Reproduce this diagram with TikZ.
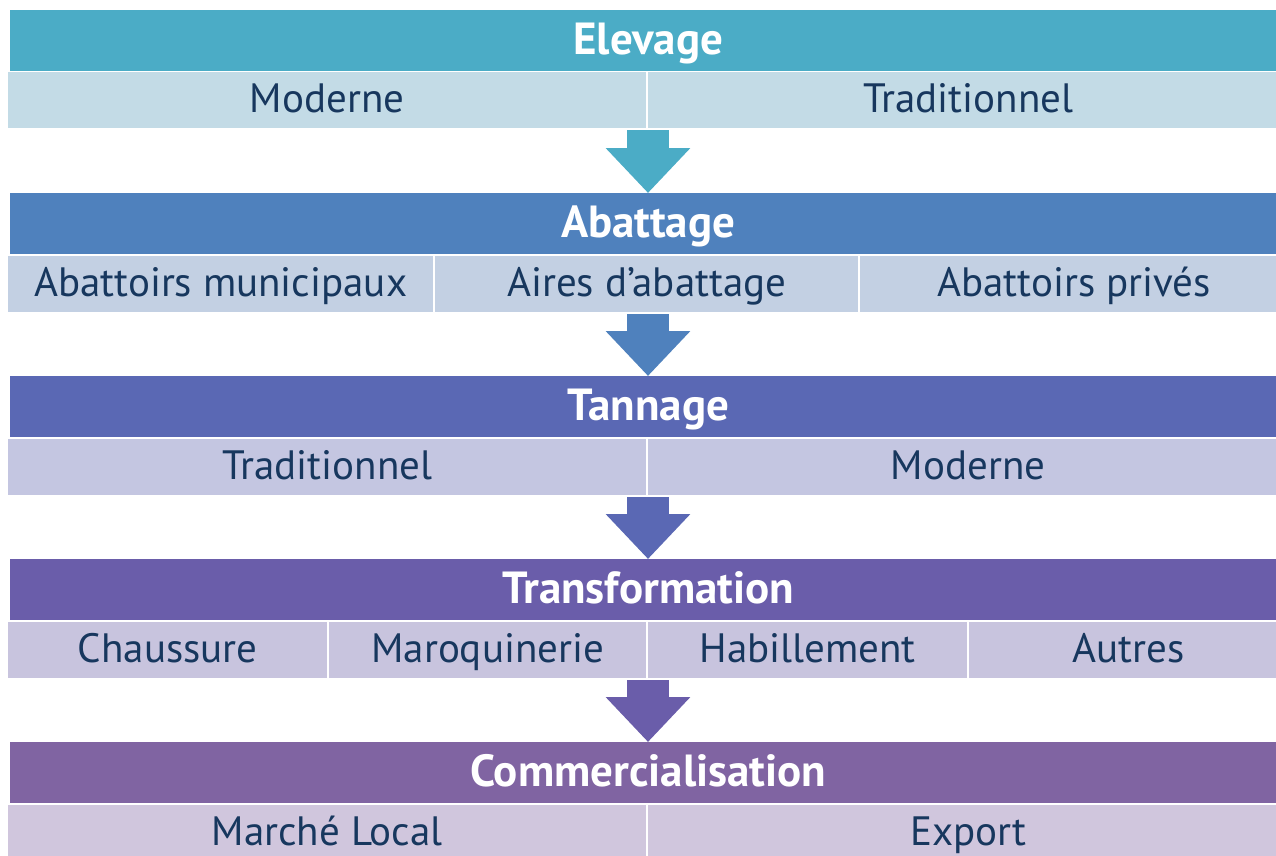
\documentclass[tikz,border=0pt]{standalone}
\usepackage{fontspec}
\setmainfont{PT Sans}
\usetikzlibrary{arrows.meta}
\definecolor{hA}{HTML}{4BACC6}\definecolor{sA}{HTML}{C3DBE6}
\definecolor{hB}{HTML}{4F81BD}\definecolor{sB}{HTML}{C3D0E3}
\definecolor{hC}{HTML}{5A68B4}\definecolor{sC}{HTML}{C4C6E1}
\definecolor{hD}{HTML}{6A5DAA}\definecolor{sD}{HTML}{C8C4DE}
\definecolor{hE}{HTML}{8064A2}\definecolor{sE}{HTML}{D0C6DD}
\definecolor{navy}{HTML}{17375E}
\tikzset{
  head/.style={fill=#1, anchor=north west, minimum width=1276pt, minimum height=61pt, inner sep=0pt,
    text height=36pt, text depth=8pt,
    text=white, font=\fontsize{45}{48}\selectfont\bfseries},
  cell/.style={fill=#1, anchor=north west, minimum height=56pt, inner sep=0pt,
    text height=30pt, text depth=6pt,
    text=navy, font=\fontsize{41}{44}\selectfont},
  flow/.style={draw=#1, line width=42pt, -{Triangle[width=82pt,length=45pt]}}
}
\begin{document}
\begin{tikzpicture}[x=1pt,y=-1pt]
\useasboundingbox (0,0) rectangle (1276,856);
% Row 1
\node[head=hA] (h1) at (10,10) {Elevage};
\node[cell=sA, minimum width=638pt] (c11) at (8,72) {Moderne};
\node[cell=sA, minimum width=640pt] (c12) at (648,72) {Traditionnel};
% Row 2
\node[head=hB] (h2) at (10,193) {Abattage};
\node[cell=sB, minimum width=425pt] (c21) at (8,256) {Abattoirs municipaux};
\node[cell=sB, minimum width=423pt] (c22) at (435,256) {Aires d’abattage};
\node[cell=sB, minimum width=428pt] (c23) at (860,256) {Abattoirs privés};
% Row 3
\node[head=hC] (h3) at (10,376) {Tannage};
\node[cell=sC, minimum width=638pt] (c31) at (8,439) {Traditionnel};
\node[cell=sC, minimum width=640pt] (c32) at (648,439) {Moderne};
% Row 4
\node[head=hD] (h4) at (10,559) {Transformation};
\node[cell=sD, minimum width=319pt] (c41) at (8,622) {Chaussure};
\node[cell=sD, minimum width=317pt] (c42) at (329,622) {Maroquinerie};
\node[cell=sD, minimum width=319pt] (c43) at (648,622) {Habillement};
\node[cell=sD, minimum width=319pt] (c44) at (969,622) {Autres};
% Row 5
\node[head=hE] (h5) at (10,742) {Commercialisation};
\node[cell=sE, minimum width=638pt] (c51) at (8,805) {Marché Local};
\node[cell=sE, minimum width=640pt] (c52) at (648,805) {Export};
% arrows
\coordinate (a1) at ([yshift=-2pt]c12.south west);
\draw[flow=hA] (a1) -- (a1 |- h2.north);
\coordinate (b1) at ([yshift=-2pt]c32.north west |- c23.south);
\draw[flow=hB] (b1) -- (b1 |- h3.north);
\coordinate (d1) at ([yshift=-2pt]c32.south west);
\draw[flow=hC] (d1) -- (d1 |- h4.north);
\coordinate (e1) at ([yshift=-2pt]c43.south west);
\draw[flow=hD] (e1) -- (e1 |- h5.north);
\end{tikzpicture}
\end{document}
